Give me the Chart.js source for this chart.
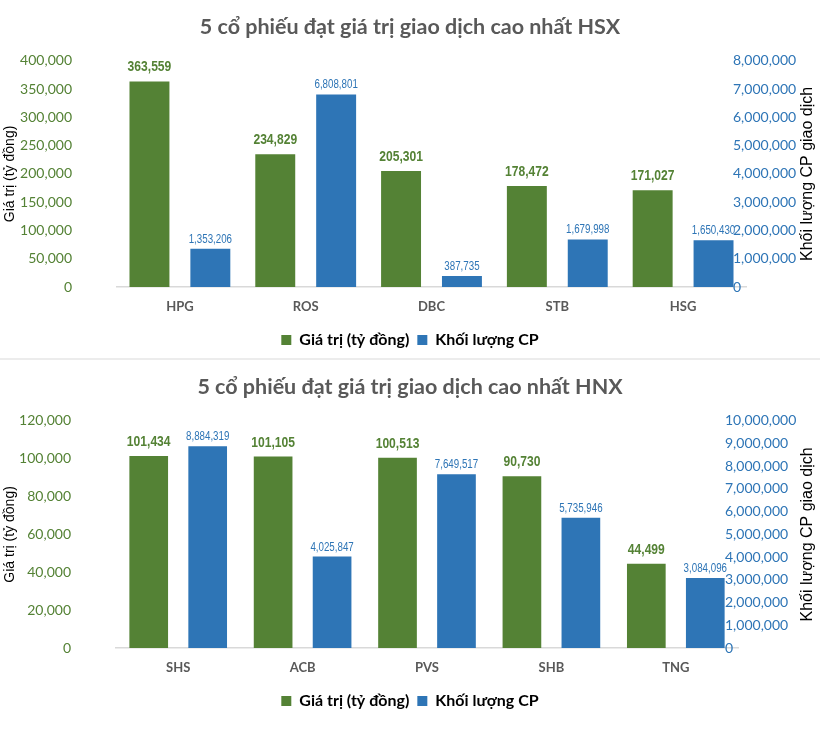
<!DOCTYPE html>
<html>
<head>
<meta charset="utf-8">
<script src="https://cdn.jsdelivr.net/npm/chart.js@4.4.1/dist/chart.umd.min.js"></script>
<style>
  body { margin: 0; background: #fff; }
  canvas { display: block; }
  .sep { height: 2px; background: #ececec; }
</style>
</head>
<body>
<canvas id="hsx" width="820" height="358"></canvas>
<div class="sep"></div>
<canvas id="hnx" width="820" height="385"></canvas>
<script>
// HSX
const hsxLabels = ["HPG", "ROS", "DBC", "STB", "HSG"];
const hsxValue = [363559, 234829, 205301, 178472, 171027];
const hsxVolume = [1353206, 6808801, 387735, 1679998, 1650430];

// HNX
const hnxLabels = ["SHS", "ACB", "PVS", "SHB", "TNG"];
const hnxValue = [101434, 101105, 100513, 90730, 44499];
const hnxVolume = [8884319, 4025847, 7649517, 5735946, 3084096];

const GREEN = "#548235";
const BLUE = "#2E75B6";
const ARIAL = "'Liberation Sans', Arial, sans-serif";

// value labels above bars (squeezed like a narrow font)
const barLabels = {
  id: "barLabels",
  afterDatasetsDraw(chart) {
    const ctx = chart.ctx;
    chart.data.datasets.forEach((ds, i) => {
      const meta = chart.getDatasetMeta(i);
      const gap = i === 0 ? 10 : 6;
      meta.data.forEach((bar, j) => {
        ctx.save();
        ctx.translate(bar.x, bar.y - gap);
        ctx.scale(0.78, 1);
        ctx.textAlign = "center";
        ctx.textBaseline = "alphabetic";
        ctx.fillStyle = ds.backgroundColor;
        ctx.font = i === 0 ? "bold 15.5px " + ARIAL : "12.5px " + ARIAL;
        ctx.fillText(ds.data[j].toLocaleString("en-US"), 0, 0);
        ctx.restore();
      });
    });
  }
};

// right axis: tick labels overlap the plot edge, title reads bottom to top
const rightAxis = {
  id: "rightAxis",
  afterDraw(chart, args, opts) {
    const ctx = chart.ctx;
    const s = chart.scales.y1;
    const a = chart.chartArea;
    ctx.save();
    ctx.fillStyle = BLUE;
    ctx.font = "14px Lato";
    ctx.textAlign = "left";
    ctx.textBaseline = "middle";
    s.ticks.forEach(t => {
      ctx.fillText(t.value.toLocaleString("en-US"), a.right - 13, s.getPixelForValue(t.value));
    });
    ctx.translate(s.right - 12, (a.top + a.bottom) / 2);
    ctx.rotate(-Math.PI / 2);
    ctx.textAlign = "center";
    ctx.fillStyle = "#000";
    ctx.font = "16px " + ARIAL;
    ctx.fillText(opts.text, 0, 0);
    ctx.restore();
  }
};

function makeChart(id, title, labels, values, volumes, cfg) {
  return new Chart(document.getElementById(id), {
    type: "bar",
    data: {
      labels: labels,
      datasets: [
        { label: "Giá trị (tỷ đồng)", data: values, backgroundColor: GREEN, yAxisID: "y",
          categoryPercentage: cfg.catPct, barPercentage: 0.656 },
        { label: "Khối lượng CP", data: volumes, backgroundColor: BLUE, yAxisID: "y1",
          categoryPercentage: cfg.catPct, barPercentage: 0.656 }
      ]
    },
    options: {
      responsive: false,
      animation: false,
      locale: "en-US",
      layout: { padding: { bottom: cfg.bottomPad } },
      plugins: {
        title: {
          display: true, text: title, color: "#595959",
          font: { family: "Lato", size: 21.5, weight: "bold" },
          padding: { top: 14, bottom: 21 }
        },
        legend: {
          position: "bottom",
          labels: {
            boxWidth: 10, boxHeight: 10, padding: 8, color: "#000",
            font: { family: "Lato", size: 16, weight: "bold" }
          }
        },
        tooltip: { enabled: false },
        rightAxis: { text: "Khối lượng CP giao dịch" }
      },
      scales: {
        x: {
          grid: { display: false, drawTicks: false },
          border: { display: true, color: "#d9d9d9", width: 1.5 },
          ticks: { color: "#595959", padding: 12, font: { family: "Lato", size: 13, weight: "bold" } },
          afterFit: s => { s.height = 37; }
        },
        y: {
          position: "left",
          min: 0, max: cfg.leftMax,
          grid: { display: false, drawTicks: false },
          border: { display: false },
          ticks: { stepSize: cfg.leftStep, color: GREEN, padding: 45, font: { family: "Lato", size: 14 } },
          title: { display: true, text: "Giá trị (tỷ đồng)", color: "#000", padding: 2,
                   font: { family: ARIAL, size: 14 } },
          afterFit: s => { s.width = cfg.areaLeft; }
        },
        y1: {
          position: "right",
          min: 0, max: cfg.rightMax,
          grid: { display: false, drawTicks: false },
          border: { display: false },
          ticks: { stepSize: 1000000, display: false },
          afterFit: s => { s.width = 820 - cfg.areaRight; }
        }
      }
    },
    plugins: [barLabels, rightAxis]
  });
}

makeChart("hsx", "5 cổ phiếu đạt giá trị giao dịch cao nhất HSX", hsxLabels, hsxValue, hsxVolume,
  { leftMax: 400000, leftStep: 50000, rightMax: 8000000, areaLeft: 117, areaRight: 746, bottomPad: 0, catPct: 0.968 });

makeChart("hnx", "5 cổ phiếu đạt giá trị giao dịch cao nhất HNX", hnxLabels, hnxValue, hnxVolume,
  { leftMax: 120000, leftStep: 20000, rightMax: 10000000, areaLeft: 116, areaRight: 738, bottomPad: 26, catPct: 0.948 });
</script>
</body>
</html>
